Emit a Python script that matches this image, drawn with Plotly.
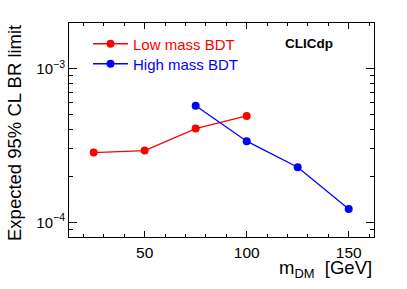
import plotly.graph_objects as go

# data
low_mass = [25, 50, 75, 100]
low_limit = [2.84e-4, 2.93e-4, 4.07e-4, 4.92e-4]
high_mass = [75, 100, 125, 150]
high_limit = [5.74e-4, 3.37e-4, 2.28e-4, 1.22e-4]
y_major = [1e-4, 1e-3]
y_major_text = ["10<sup>−4</sup>", "10<sup>−3</sup>"]
y_minor = [9e-5] + [k * 1e-4 for k in range(2, 10)]
x_major = [50, 100, 150]

FONT = "Liberation Sans, Arial, Helvetica, sans-serif"
W, H = 407, 289
ML, MR, MT, MB = 69, 33, 23, 52
PW, PH = W - ML - MR, H - MT - MB


def px(x):
    return (x - ML) / PW


def py(y):
    return (H - MB - y) / PH


fig = go.Figure()
fig.add_trace(go.Scatter(x=low_mass, y=low_limit, mode="lines+markers", name="Low mass BDT",
                         line=dict(color="#ff0000", width=1.3),
                         marker=dict(color="#ff0000", size=8), legend="legend"))
fig.add_trace(go.Scatter(x=high_mass, y=high_limit, mode="lines+markers", name="High mass BDT",
                         line=dict(color="#0000ff", width=1.3),
                         marker=dict(color="#0000ff", size=8), legend="legend2"))

leg_common = dict(xanchor="left", yanchor="middle", bgcolor="rgba(0,0,0,0)", itemwidth=35)

fig.update_layout(
    width=W, height=H,
    margin=dict(l=ML, r=MR, t=MT, b=MB),
    paper_bgcolor="white", plot_bgcolor="white",
    font=dict(family=FONT, color="black", size=15),
    showlegend=True,
    legend=dict(x=px(88), y=py(44), font=dict(size=15, color="#ff0000"), **leg_common),
    legend2=dict(x=px(88), y=py(64), font=dict(size=15, color="#0000ff"), **leg_common),
    xaxis=dict(range=[12.9, 162.4], showgrid=False, zeroline=False,
               showline=True, linecolor="black", linewidth=1, mirror="allticks",
               ticks="inside", ticklen=6, tickcolor="black", tickwidth=1,
               tickmode="array", tickvals=x_major, ticktext=[str(v) for v in x_major],
               tickfont=dict(size=15.5), ticklabelstandoff=1,
               minor=dict(dtick=10, tick0=0, ticks="inside", ticklen=3, tickcolor="black", showgrid=False)),
    yaxis=dict(type="log", range=[-4.096, -2.703], showgrid=False, zeroline=False,
               showline=True, linecolor="black", linewidth=1, mirror="allticks",
               ticks="inside", ticklen=8, tickcolor="black", tickwidth=1,
               tickmode="array", tickvals=y_major, ticktext=y_major_text,
               tickfont=dict(size=15),
               minor=dict(tickmode="array", tickvals=y_minor, ticks="inside", ticklen=4,
                          tickcolor="black", showgrid=False)),
    annotations=[
        dict(text="Expected 95% CL BR limit", textangle=-90, xref="paper", yref="paper",
             x=px(14), y=1.0, xanchor="center", yanchor="top", showarrow=False,
             font=dict(size=18.5)),
        dict(text="m<sub>DM</sub>  [GeV]", xref="paper", yref="paper", x=1.0, y=0.0,
             xanchor="right", yanchor="top", yshift=-18, showarrow=False,
             font=dict(size=18.5)),
        dict(text="<b>CLICdp</b>", xref="paper", yref="paper", x=px(283), y=py(44),
             xanchor="left", yanchor="middle", showarrow=False, font=dict(size=13.5)),
    ],
)

fig.write_html("out.html", config={"displayModeBar": False},
               post_script="document.body.style.margin='0';")
